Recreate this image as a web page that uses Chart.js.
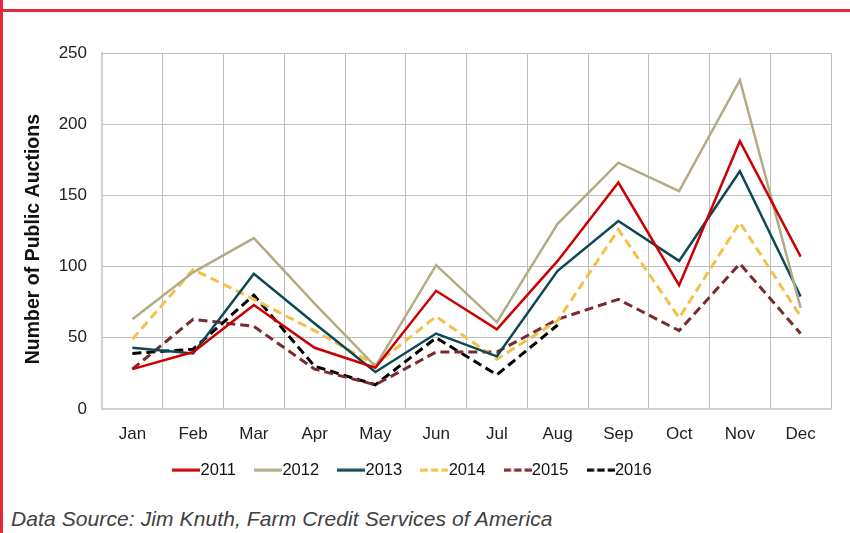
<!DOCTYPE html>
<html>
<head>
<meta charset="utf-8">
<script src="https://cdn.jsdelivr.net/npm/chart.js@4"></script>
<style>
  html, body { margin: 0; padding: 0; background: #fff; }
  #wrap { position: relative; width: 850px; height: 533px; overflow: hidden; }
  #chartBox { position: absolute; left: 0; top: 0; width: 850px; height: 495px; }
  .edge-left { position: absolute; left: 0; top: 0; width: 3px; height: 533px; background: #e8283a; }
  .edge-top { position: absolute; left: 0; top: 9px; width: 850px; height: 3px; background: #e8283a; }
  #source { position: absolute; left: 11px; top: 507px; font-family: "Liberation Sans", Arial, sans-serif;
            font-style: italic; font-size: 21px; color: #404040; letter-spacing: 0.1px; }
</style>
</head>
<body>
<div id="wrap">
  <div id="chartBox"><canvas id="auctionChart"></canvas></div>
  <div class="edge-left"></div>
  <div class="edge-top"></div>
  <div id="source">Data Source: Jim Knuth, Farm Credit Services of America</div>
</div>
<script>
const months = ['Jan', 'Feb', 'Mar', 'Apr', 'May', 'Jun', 'Jul', 'Aug', 'Sep', 'Oct', 'Nov', 'Dec'];
const yTicks = [0, 50, 100, 150, 200, 250];

const y2011 = [28, 40, 73, 43, 29, 83, 56, 104, 159, 87, 188, 107];
const y2012 = [63, 96, 120, 74, 30, 101, 61, 130, 173, 153, 231, 71];
const y2013 = [43, 39, 95, 60, 26, 53, 37, 97, 132, 104, 167, 79];
const y2014 = [49, 98, 77, 55, 31, 65, 35, 62, 126, 64, 131, 65];
const y2015 = [28, 63, 58, 28, 17, 40, 40, 63, 77, 55, 102, 53];
const y2016 = [39, 42, 80, 30, 17, 50, 24, 59];

const font = "'Liberation Sans', Arial, sans-serif";

function series(label, data, color, dashed) {
    return {
        label: label,
        data: data,
        borderColor: color,
        backgroundColor: color,
        borderWidth: dashed ? 3 : 2.5,
        borderDash: dashed ? [9, 5] : [],
        pointRadius: 0,
        tension: 0,
        fill: false
    };
}

// small line sample used as the legend point style (28px wide, sits right before the text)
function legendSwatch(color, dash) {
    const c = document.createElement('canvas');
    c.width = 28;
    c.height = 4;
    const g = c.getContext('2d');
    g.strokeStyle = color;
    g.lineWidth = 3;
    g.setLineDash(dash && dash.length ? [7.5, 3] : []);
    g.beginPath();
    g.moveTo(0, 2);
    g.lineTo(28, 2);
    g.stroke();
    return c;
}

document.addEventListener('DOMContentLoaded', function() {
    const ctx = document.getElementById('auctionChart').getContext('2d');
    new Chart(ctx, {
        type: 'line',
        data: {
            labels: months,
            datasets: [
                series('2011', y2011, '#cc0000', false),
                series('2012', y2012, '#b3ab85', false),
                series('2013', y2013, '#0d4954', false),
                series('2014', y2014, '#f3c04a', true),
                series('2015', y2015, '#7a2a2d', true),
                series('2016', y2016, '#000000', true)
            ]
        },
        options: {
            responsive: true,
            maintainAspectRatio: false,
            animation: false,
            layout: { padding: { left: 10, right: 19, top: 53, bottom: 6.5 } },
            plugins: {
                tooltip: { enabled: false },
                legend: {
                    position: 'bottom',
                    labels: {
                        usePointStyle: true,
                        pointStyleWidth: 12,
                        boxHeight: 4,
                        padding: 17,
                        color: '#111',
                        font: { family: font, size: 16.5 },
                        generateLabels: function(chart) {
                            const items = Chart.defaults.plugins.legend.labels.generateLabels(chart);
                            items.forEach(item => {
                                const ds = chart.data.datasets[item.datasetIndex];
                                item.pointStyle = legendSwatch(ds.borderColor, ds.borderDash);
                                item.text = item.text + '  ';
                            });
                            return items;
                        }
                    }
                }
            },
            scales: {
                x: {
                    offset: true,
                    grid: { offset: true, color: '#bdbdbd', lineWidth: 1, drawTicks: false },
                    border: { color: '#d0d0d0', width: 2 },
                    ticks: { color: '#222', padding: 15, font: { family: font, size: 17 } },
                    afterFit: function(scale) { scale.height = 36; }
                },
                y: {
                    min: 0,
                    max: 250,
                    afterBuildTicks: function(scale) { scale.ticks = yTicks.map(v => ({ value: v })); },
                    grid: { color: '#bdbdbd', lineWidth: 1, drawTicks: false },
                    border: { color: '#d0d0d0', width: 2 },
                    ticks: { color: '#222', padding: 15, font: { family: font, size: 17 } },
                    title: {
                        display: true,
                        text: 'Number of Public Auctions   ',
                        color: '#111',
                        font: { family: font, size: 19.5, weight: 'bold' },
                        padding: { top: 12, bottom: 0 }
                    },
                    afterFit: function(scale) { scale.width = 92; }
                }
            }
        }
    });
});
</script>
</body>
</html>
